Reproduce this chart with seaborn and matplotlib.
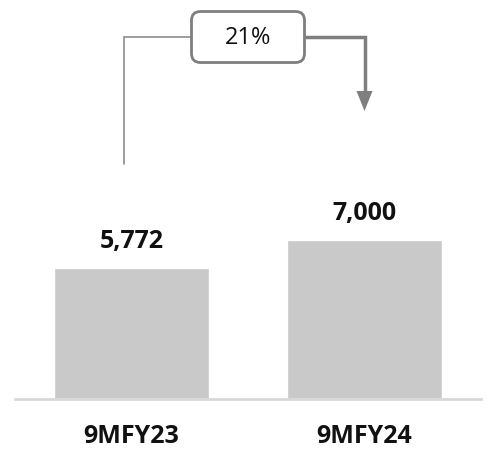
import matplotlib
matplotlib.use("Agg")
import matplotlib.pyplot as plt
import seaborn as sns
import pandas as pd
from matplotlib.patches import FancyBboxPatch, Polygon

# Data
periods = ["9MFY23", "9MFY24"]
values = [5772, 7000]
growth_label = "21%"

sns.set_theme(style="white")
plt.rcParams["font.family"] = ["Open Sans", "DejaVu Sans"]

df = pd.DataFrame({"period": periods, "value": values})

W, H, DPI = 491, 460, 100
AX_W, AX_H = 466, 400
YMAX = 17625
fig = plt.figure(figsize=(W / DPI, H / DPI), dpi=DPI)
ax = fig.add_axes([15 / W, 60 / H, AX_W / W, AX_H / H])

sns.barplot(data=df, x="period", y="value", color="#c9c9c9", saturation=1,
            width=0.667, ax=ax)

ax.set_xlim(-0.5, 1.5)
ax.set_ylim(0, YMAX)
ax.set_xlabel("")
ax.set_ylabel("")
ax.set_yticks([])
for side in ["top", "left", "right"]:
    ax.spines[side].set_visible(False)
ax.spines["bottom"].set_color("#d9d9d9")
ax.spines["bottom"].set_linewidth(2)
ax.tick_params(axis="x", length=0, pad=17)
for lbl in ax.get_xticklabels():
    lbl.set_fontsize(18)
    lbl.set_fontweight("bold")
    lbl.set_color("#111111")

# Value labels above bars
for i, v in enumerate(values):
    ax.annotate(f"{v:,}", xy=(i, v), xytext=(0, 20), textcoords="offset points",
                ha="center", va="center", fontsize=18, fontweight="bold",
                color="#111111")

# data units per pixel
px_x = 2 / AX_W
px_y = YMAX / AX_H

# Growth connector: from first bar up, across the label, down to second bar
line_color = "#7f7f7f"
y_top = 15950
ax.plot([-0.034, -0.034, 0.25], [10350, y_top, y_top], color="#8c8c8c",
        lw=1.2, solid_joinstyle="miter", clip_on=False)
tip_y = 12690
head_len = 20 * px_y
head_half = 8 * px_x
ax.plot([0.75, 1.0, 1.0], [y_top, y_top, tip_y + head_len], color=line_color,
        lw=2.5, solid_joinstyle="miter", clip_on=False)
ax.add_patch(Polygon([[1.0 - head_half, tip_y + head_len],
                      [1.0 + head_half, tip_y + head_len],
                      [1.0, tip_y]], closed=True, facecolor=line_color,
                     edgecolor="none", clip_on=False))

# Rounded label box
box_w = 113 * px_x
box_h = 51 * px_y
box = FancyBboxPatch((0.5 - box_w / 2, y_top - box_h / 2), box_w, box_h,
                     boxstyle=f"round,pad=0,rounding_size={9 * px_x}",
                     mutation_aspect=px_y / px_x,
                     facecolor="white", edgecolor=line_color, lw=2,
                     clip_on=False, zorder=3)
ax.add_patch(box)
ax.text(0.5, y_top, growth_label, ha="center", va="center", fontsize=17,
        color="#111111", zorder=4)

fig.savefig("out.png", dpi=DPI)
